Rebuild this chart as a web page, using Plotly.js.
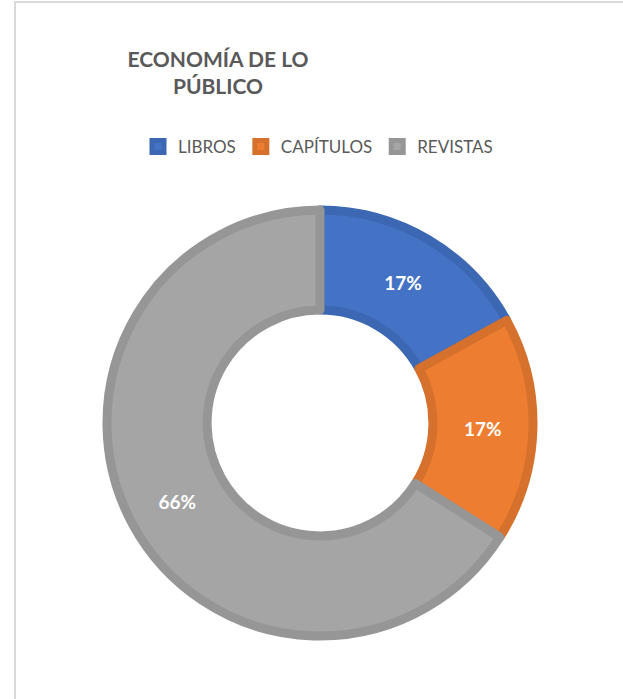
<!DOCTYPE html>
<html>
<head>
<meta charset="utf-8">
<script src="https://cdn.plot.ly/plotly-3.0.1.min.js"></script>
<style>
  html, body { margin: 0; padding: 0; background: #fff; }
  #wrap { position: relative; width: 623px; height: 699px; overflow: hidden; }
  #frame { position: absolute; left: 14px; top: 1px; width: 700px; height: 800px;
           border-left: 2px solid #d9d9d9; border-top: 2px solid #d9d9d9; pointer-events: none; }
  #chart { position: absolute; left: 0; top: 0; width: 623px; height: 699px; }
</style>
</head>
<body>
<div id="wrap">
  <div id="chart"></div>
  <div id="frame"></div>
</div>
<script>
const categories = ["LIBROS", "CAPÍTULOS", "REVISTAS"];
const values = [17, 17, 66];
const fillColors = ["#4472C4", "#ED7D31", "#A5A5A5"];
const lineColors = ["#3C67B3", "#D5712C", "#969696"];
const titleText = "ECONOMÍA DE LO<br>PÚBLICO";

const W = 623, H = 699;
const cx = 320, cy = 423, R = 213;

const trace = {
  type: "pie",
  labels: categories,
  values: values,
  hole: 0.53,
  sort: false,
  direction: "clockwise",
  rotation: 0,
  marker: { colors: fillColors, line: { color: lineColors, width: 9 } },
  textinfo: "percent",
  texttemplate: "%{percent:.0%}",
  textposition: "inside",
  insidetextorientation: "horizontal",
  textfont: { family: "Lato, 'Open Sans', sans-serif", size: 19, color: "#ffffff", weight: "bold" },
  hoverinfo: "label+percent",
  domain: {
    x: [(cx - R) / W, (cx + R) / W],
    y: [(H - cy - R) / H, (H - cy + R) / H]
  }
};

const layout = {
  width: W, height: H,
  margin: { l: 0, r: 0, t: 0, b: 0 },
  paper_bgcolor: "#ffffff",
  plot_bgcolor: "#ffffff",
  font: { family: "Lato, 'Open Sans', sans-serif", color: "#595959" },
  title: {
    text: titleText,
    x: 218 / W, xanchor: "center",
    y: 1 - 67 / H, yanchor: "middle",
    font: { family: "Lato, 'Open Sans', sans-serif", size: 21, color: "#595959", weight: "bold" }
  },
  showlegend: true,
  legend: {
    orientation: "h",
    x: 318 / W, xanchor: "center",
    y: 1 - 147 / H, yanchor: "middle",
    font: { family: "Lato, 'Open Sans', sans-serif", size: 17, color: "#595959" },
    itemwidth: 30,
    tracegroupgap: 0
  }
};

Plotly.newPlot("chart", [trace], layout, { displayModeBar: false, staticPlot: true });
</script>
</body>
</html>
